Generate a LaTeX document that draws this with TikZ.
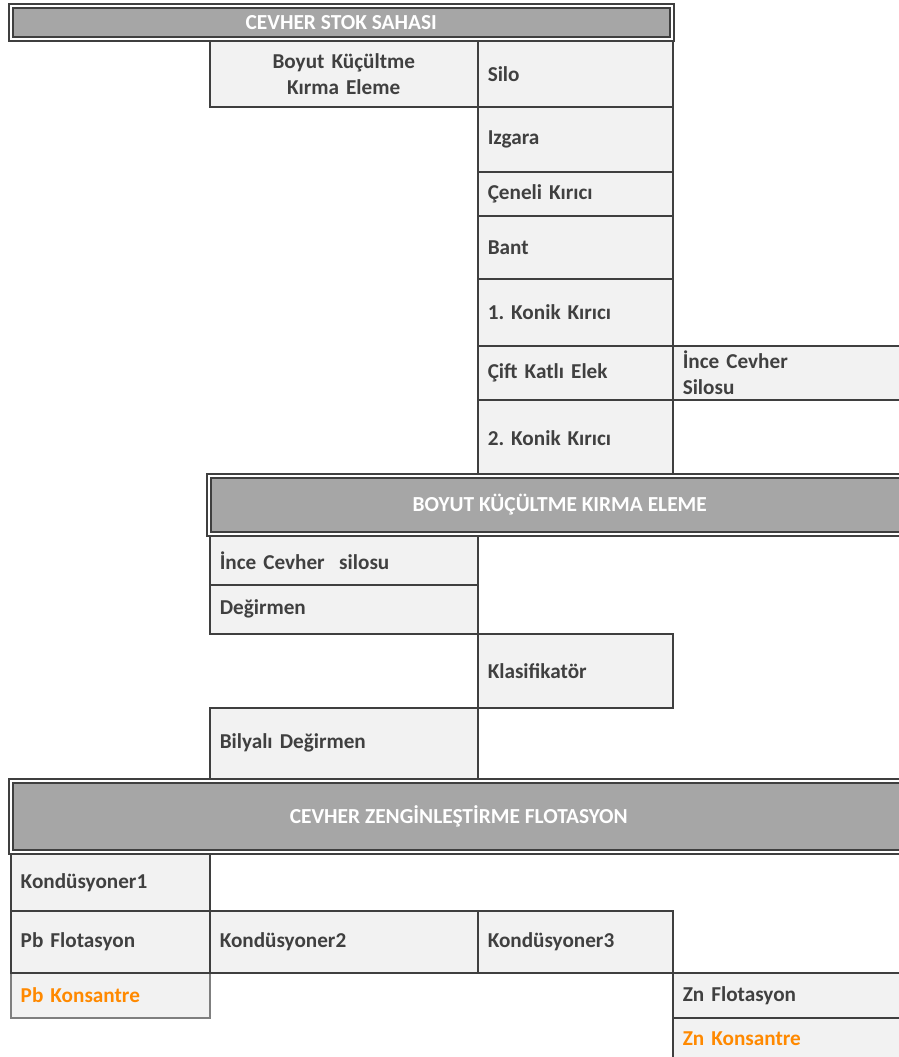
\documentclass[tikz,border=0pt]{standalone}
\usepackage{fontspec}
\setmainfont{Carlito}
\usepackage{xcolor}
\usepackage{tikz}
\usetikzlibrary{positioning}
\definecolor{cellfill}{RGB}{242,242,242}
\definecolor{cellline}{RGB}{63,63,63}
\definecolor{lightline}{RGB}{127,127,127}
\definecolor{headfill}{RGB}{166,166,166}
\definecolor{celltext}{RGB}{64,64,64}
\definecolor{konsantre}{RGB}{255,137,0}
\frenchspacing

\tikzset{
  cell/.style 2 args={draw=cellline,fill=cellfill,line width=0.75pt,
        anchor=north west,inner xsep=5pt,inner ysep=0pt,align=left,
        minimum width=#1*0.5pt,minimum height=#2*0.5pt,text width=#1*0.5pt-10pt,
        font=\fontsize{10.6}{13}\selectfont\bfseries,text=celltext},
  head/.style 2 args={draw=cellline,double=white,double distance=1.25pt,
        line width=0.75pt,fill=headfill,anchor=north west,inner sep=0pt,
        minimum width=#1*0.5pt,minimum height=#2*0.5pt,
        font=\fontsize{10.7}{13}\selectfont\bfseries,text=white}
}

\begin{document}
\begin{tikzpicture}[x=0.5pt,y=-0.5pt]
  \path[fill=white,use as bounding box] (0,0) rectangle (899,1057);
  \clip (0,0) rectangle (899,1057);

  % stok sahasi
  \node[cell={268}{66},align=center] (boyut) at (209,40) {Boyut Küçültme\\Kırma Eleme};
  \node[cell={195}{66}] (silo) at (477,40) {Silo};
  \node[cell={195}{65}] (izgara) at (477,106) {Izgara};
  \node[cell={195}{44}] (ceneli) at (477,171) {Çeneli Kırıcı};
  \node[cell={195}{63}] (bant) at (477,215) {Bant};
  \node[cell={195}{67}] (konik1) at (477,278) {1. Konik Kırıcı};
  \node[cell={195}{54}] (elek) at (477,345) {Çift Katlı Elek};
  \node[cell={240}{54}] (incesilo) at (672,345) {İnce Cevher\\Silosu};
  \node[cell={195}{76}] (konik2) at (477,399) {2. Konik Kırıcı};
  \node[head={661}{33}] (stok) at (10,5) {CEVHER STOK SAHASI};

  % boyut kucultme
  \node[head={702}{58}] (kirma) at (208,475) {BOYUT KÜÇÜLTME KIRMA ELEME};
  \node[cell={268}{49}] (ince) at (209,535) {İnce Cevher\hspace{0.35em} silosu};
  \node[cell={268}{49}] (degirmen) at (209,584) {Değirmen};
  \node[cell={195}{74}] (klasif) at (477,633) {Klasifikatör};
  \node[cell={268}{71}] (bilyali) at (209,707) {Bilyalı Değirmen};

  % flotasyon
  \node[head={896}{71}] (flot) at (10,780) {CEVHER ZENGİNLEŞTİRME FLOTASYON};
  \node[cell={199}{57}] (kond1) at (10,853) {Kondüsyoner1};
  \node[cell={199}{45},draw=lightline,text=konsantre] (pbkons) at (10,972) {Pb Konsantre};
  \node[cell={199}{62}] (pbflot) at (10,910) {Pb Flotasyon};
  \node[cell={268}{62}] (kond2) at (209,910) {Kondüsyoner2};
  \node[cell={195}{62}] (kond3) at (477,910) {Kondüsyoner3};
  \node[cell={240}{45}] (znflot) at (672,972) {Zn Flotasyon};
  \node[cell={240}{42},text=konsantre] (znkons) at (672,1017) {Zn Konsantre};
\end{tikzpicture}
\end{document}
